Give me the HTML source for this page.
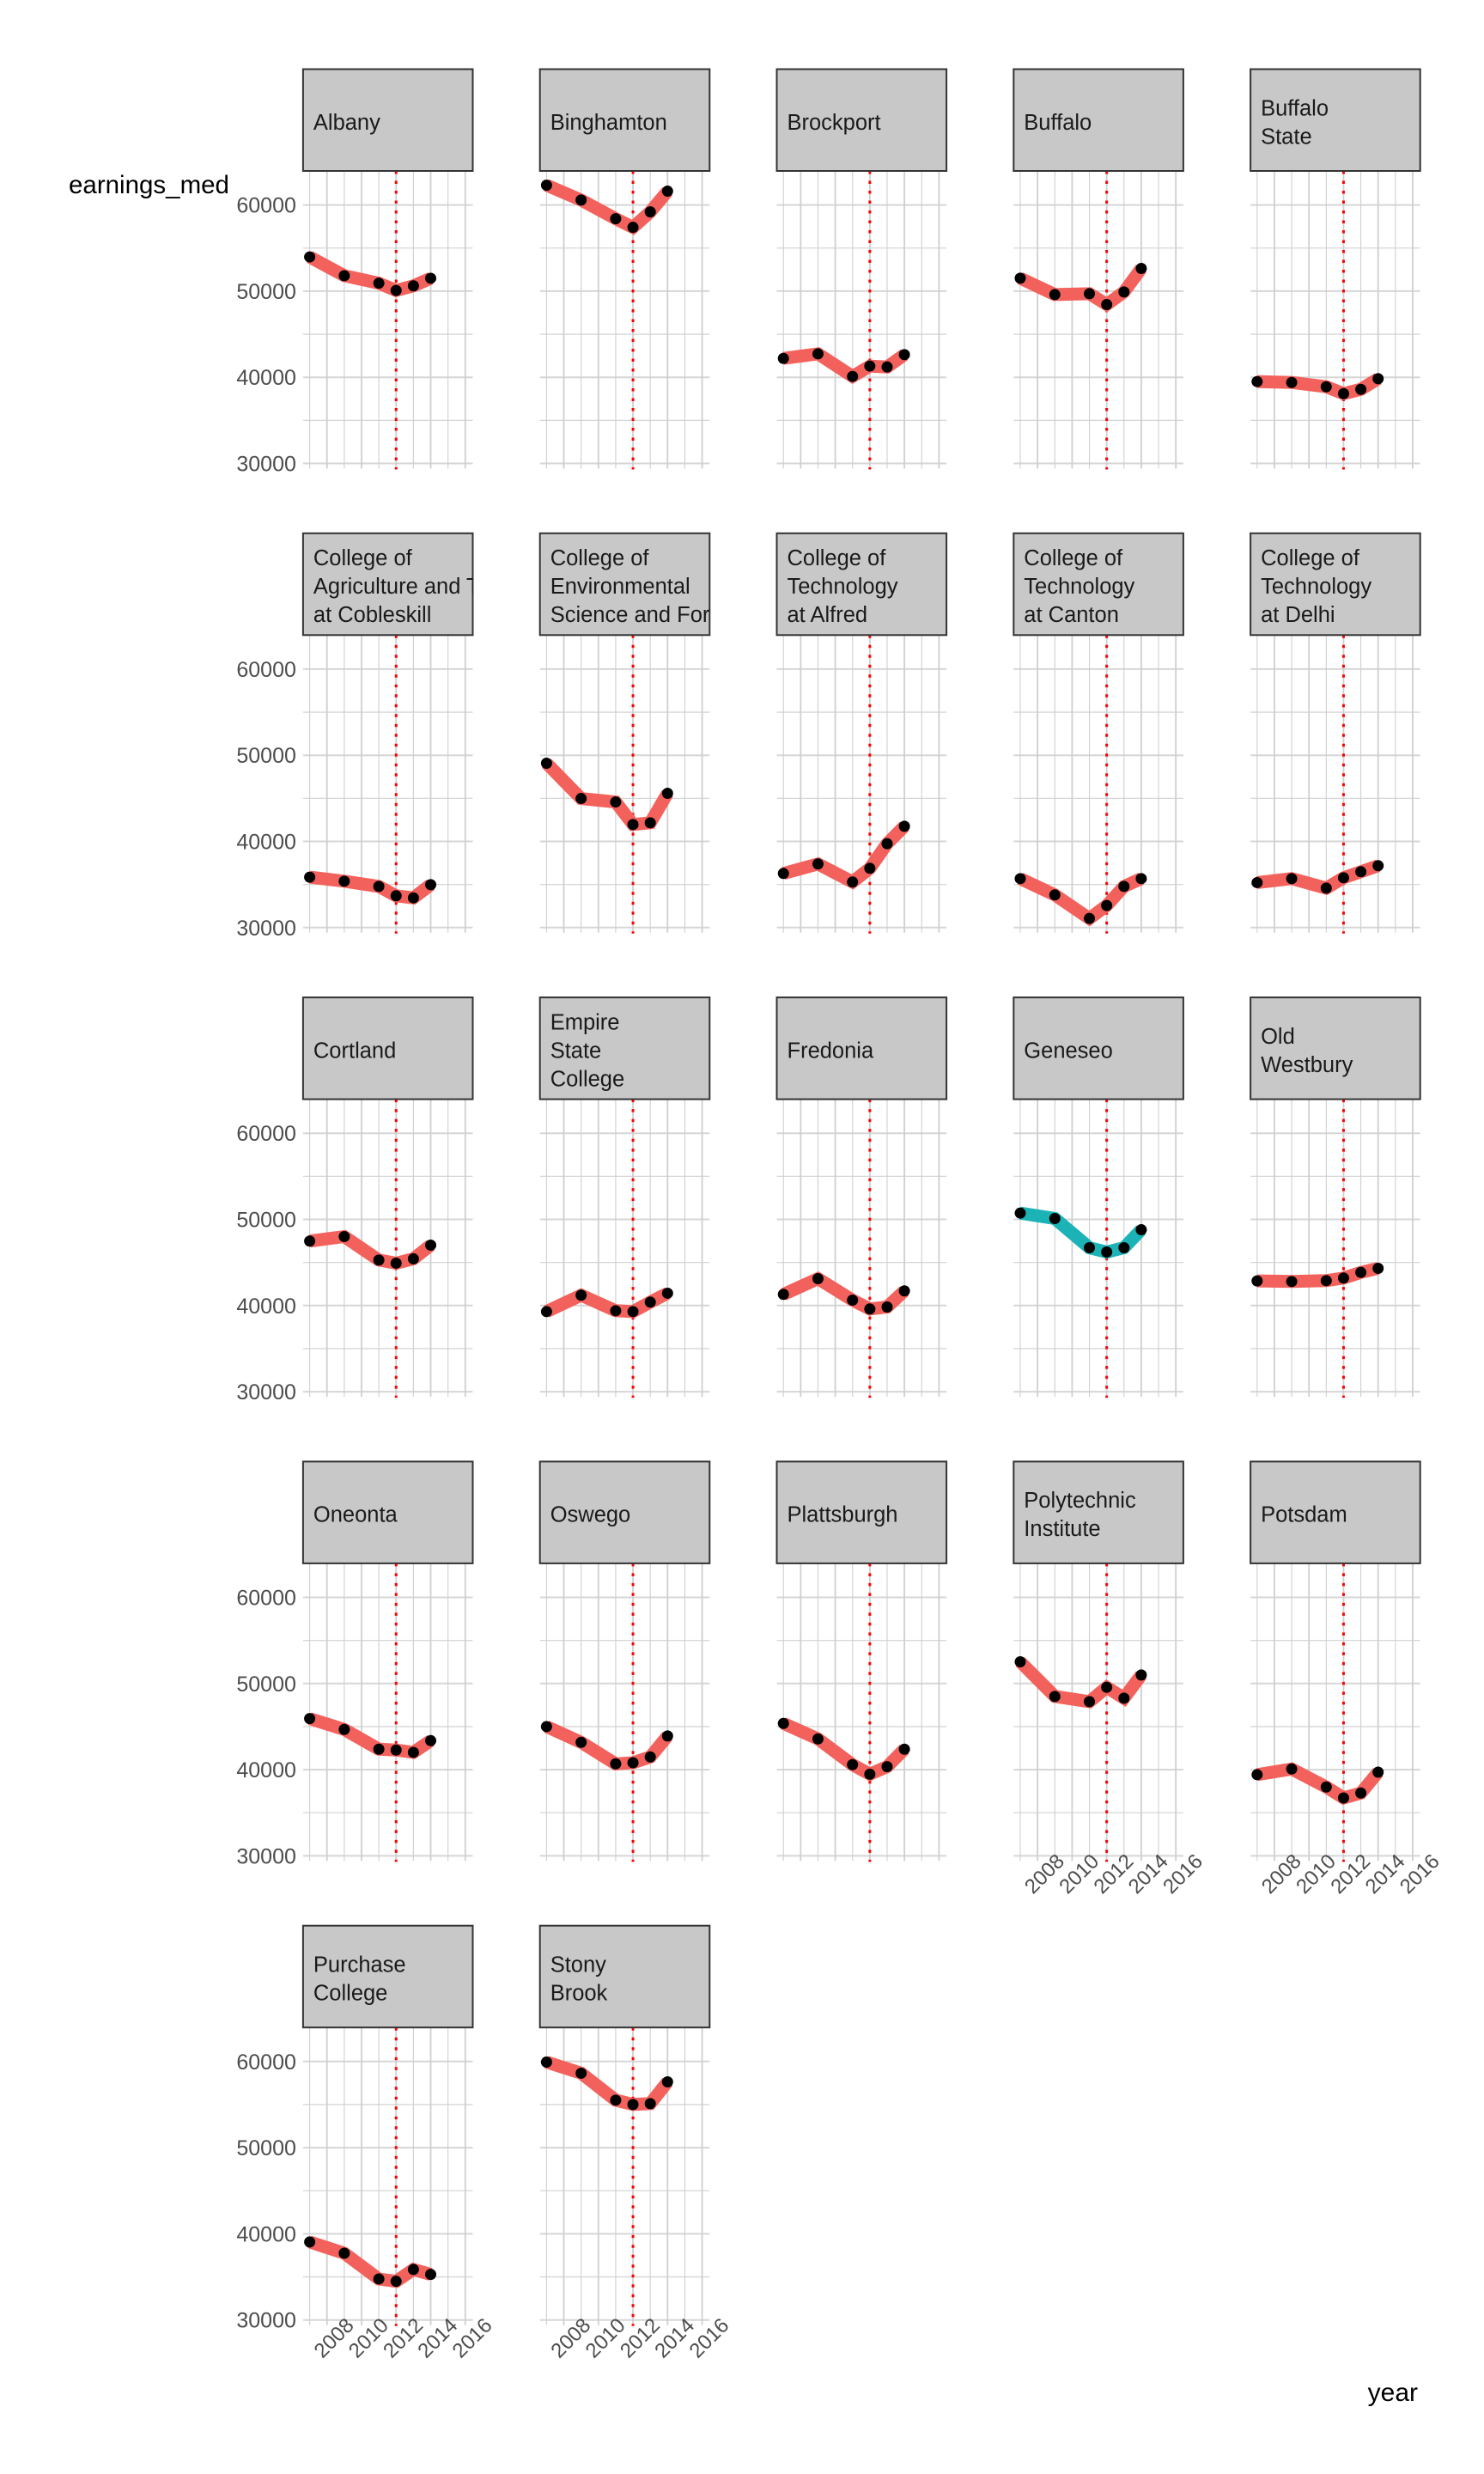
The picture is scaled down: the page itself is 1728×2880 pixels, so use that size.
<!DOCTYPE html>
<html>
<head>
<meta charset="utf-8">
<style>
  html,body{margin:0;padding:0;background:#fff;}
  svg{display:block;}
  text{font-family:"Liberation Sans", Arial, sans-serif;}
</style>
</head>
<body>
<svg id="chart" width="1728" height="2880" viewBox="0 0 1728 2880" xmlns="http://www.w3.org/2000/svg">
  <rect x="0" y="0" width="1728" height="2880" fill="#ffffff"/>
  <text x="80" y="225" font-size="29.5" fill="#000">earnings_med</text>
  <text x="1651" y="2795" font-size="30" fill="#000" text-anchor="end">year</text>
</svg>
<script>
const years = [2007, 2009, 2011, 2012, 2013, 2014];
const campuses = [
  ["Albany"], ["Binghamton"], ["Brockport"], ["Buffalo"], ["Buffalo", "State"],
  ["College of", "Agriculture and Technology", "at Cobleskill"], ["College of", "Environmental", "Science and Forestry"], ["College of", "Technology", "at Alfred"], ["College of", "Technology", "at Canton"], ["College of", "Technology", "at Delhi"],
  ["Cortland"], ["Empire", "State", "College"], ["Fredonia"], ["Geneseo"], ["Old", "Westbury"],
  ["Oneonta"], ["Oswego"], ["Plattsburgh"], ["Polytechnic", "Institute"], ["Potsdam"],
  ["Purchase", "College"], ["Stony", "Brook"]
];
const earnings = [
  [53970, 51790, 50920, 50080, 50610, 51490],
  [62290, 60570, 58400, 57400, 59200, 61600],
  [42190, 42720, 40100, 41300, 41200, 42630],
  [51500, 49600, 49700, 48440, 49900, 52630],
  [39500, 39400, 38900, 38100, 38600, 39830],
  [35850, 35380, 34780, 33690, 33450, 34980],
  [49070, 44980, 44580, 41960, 42160, 45580],
  [36280, 37380, 35290, 36880, 39740, 41760],
  [35680, 33790, 31060, 32560, 34780, 35680],
  [35220, 35680, 34580, 35780, 36480, 37180],
  [47480, 48010, 45280, 44920, 45420, 47010],
  [39300, 41200, 39400, 39300, 40400, 41430],
  [41300, 43120, 40630, 39600, 39830, 41700],
  [50730, 50100, 46710, 46210, 46710, 48800],
  [42860, 42790, 42890, 43190, 43850, 44320],
  [45930, 44670, 42380, 42280, 42010, 43370],
  [45000, 43170, 40680, 40810, 41480, 43910],
  [45370, 43570, 40580, 39480, 40350, 42380],
  [52520, 48500, 47900, 49560, 48300, 50990],
  [39420, 40080, 37990, 36720, 37290, 39710],
  [39050, 37750, 34760, 34490, 35860, 35290],
  [59930, 58640, 55510, 55010, 55110, 57640]
];
const highlighted = ["Geneseo"];
const yTickLabels = [30000, 40000, 50000, 60000];
const yGridValues = [30000, 35000, 40000, 45000, 50000, 55000, 60000];
const xGridYears = [2007, 2008, 2009, 2010, 2011, 2012, 2013, 2014, 2015, 2016];
const xTickLabels = [2008, 2010, 2012, 2014, 2016];
const cutoffYear = 2012;
const xAxisPanels = [18, 19, 20, 21];

const NS = "http://www.w3.org/2000/svg";
const svg = document.getElementById("chart");
const COL0 = 352.9, COLSTEP = 275.8, PW = 197.6;
const ROWSTEP = 540.3, STRIP0 = 80.5, STRIPH = 118.5, Y30_0 = 539.5;
const PX_PER_UNIT = 100.3 / 10000;
const YEAR_PX = 20.13;

function mk(tag, attrs, parent) {
  const e = document.createElementNS(NS, tag);
  for (const k in attrs) e.setAttribute(k, attrs[k]);
  (parent || svg).appendChild(e);
  return e;
}

campuses.forEach((lines, i) => {
  const col = i % 5, row = Math.floor(i / 5);
  const left = COL0 + col * COLSTEP;
  const stripTop = STRIP0 + row * ROWSTEP;
  const panelTop = stripTop + STRIPH;
  const y30 = Y30_0 + row * ROWSTEP;
  const xs = yr => left + 7.7 + (yr - 2007) * YEAR_PX;
  const ys = v => y30 - (v - 30000) * PX_PER_UNIT;
  const slug = lines.join("-").toLowerCase().replace(/[^a-z]+/g, "-");

  const g = mk("g", {});
  
  

  yGridValues.forEach(v => {
    const l = mk("line", {x1: left, x2: left + PW, y1: ys(v), y2: ys(v), stroke: "#d6d6d6", "stroke-width": (v % 10000 === 0) ? 2 : 1.3}, g);
    
    
  });
  xGridYears.forEach(yr => {
    const l = mk("line", {x1: xs(yr), x2: xs(yr), y1: panelTop, y2: y30 + 6, stroke: "#cfcfcf", "stroke-width": (yr % 2 === 0) ? 1.8 : 1.1}, g);
    
    
  });

  const vl = mk("line", {x1: xs(cutoffYear), x2: xs(cutoffYear), y1: panelTop, y2: y30 + 7, stroke: "#ff0000", "stroke-width": 3, "stroke-dasharray": "3.5 8"}, g);
  
  

  const vals = earnings[i];
  const color = highlighted.includes(lines.join(" ")) ? "#1cb3b6" : "#f3615c";
  const pts = years.map((yr, k) => xs(yr).toFixed(1) + "," + ys(vals[k]).toFixed(1)).join(" ");
  const pl = mk("polyline", {points: pts, fill: "none", stroke: color, "stroke-width": 15, "stroke-linejoin": "miter", "stroke-linecap": "butt"}, g);
  
  
  years.forEach((yr, k) => {
    const c = mk("circle", {cx: xs(yr), cy: ys(vals[k]), r: 6.5, fill: "#000"}, g);
    
    
  });

  const clipId = "clip" + i;
  const cp = mk("clipPath", {id: clipId}, g);
  mk("rect", {x: left, y: stripTop, width: PW, height: STRIPH}, cp);
  const sr = mk("rect", {x: left, y: stripTop, width: PW, height: STRIPH, fill: "#c8c8c8", stroke: "#333333", "stroke-width": 2}, g);
  
  
  const st = mk("text", {x: left + 12, "font-size": 25.5, fill: "#1a1a1a", "clip-path": "url(#" + clipId + ")"}, g);
  
  
  const cy = stripTop + STRIPH / 2 + 2;
  const lh = 33;
  lines.forEach((ln, k) => {
    const ts = mk("tspan", {x: left + 12, y: cy + (k - (lines.length - 1) / 2) * lh + 9}, st);
    ts.textContent = ln;
  });

  if (col === 0) {
    yTickLabels.forEach(v => {
      const t = mk("text", {x: left - 8, y: ys(v) + 9, "font-size": 25, fill: "#4d4d4d", "text-anchor": "end"});
      
      
      t.textContent = v;
    });
  }
  if (xAxisPanels.includes(i)) {
    xTickLabels.forEach(yr => {
      const cx = xs(yr) + 8, cyl = y30 + 21;
      const t = mk("text", {x: cx, y: cyl + 8, "font-size": 24, fill: "#4d4d4d", "text-anchor": "middle", transform: "rotate(-45 " + cx + " " + cyl + ")"});
      
      
      t.textContent = yr;
    });
  }
});
</script>
</body>
</html>
